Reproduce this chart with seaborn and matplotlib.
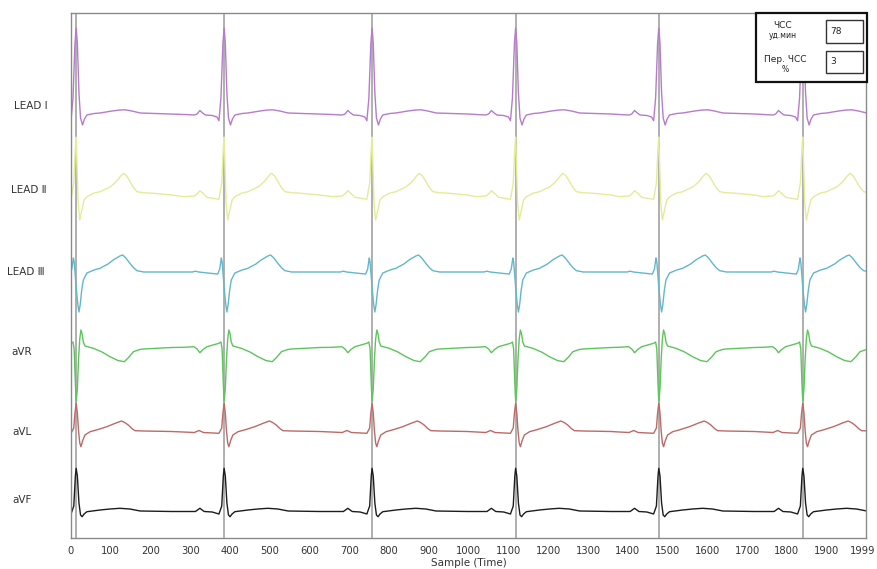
import numpy as np
import pandas as pd
import matplotlib.pyplot as plt
import seaborn as sns
from matplotlib.patches import Rectangle
from matplotlib.ticker import MultipleLocator
from matplotlib.transforms import ScaledTranslation

# R-peak positions (samples)
r_peaks = [13, 385, 757, 1118, 1478, 1840]

leads = ["LEAD Ⅰ", "LEAD Ⅱ", "LEAD Ⅲ", "aVR", "aVL", "aVF"]
baselines = [42.5, 34.5, 26.6, 18.9, 10.7, 2.7]
colors = ["#b57ccc", "#e4ec98", "#62b7cc", "#5cc65a", "#bd6a66", "#1c1c1c"]

# one beat per lead: (offset from R peak in samples, amplitude)
lead1_beat = [(-100, -0.15), (-75, -0.2), (-68, -0.1), (-61, 0.25), (-54, 0.0), (-47, -0.2),
              (-30, -0.25), (-18, -0.4), (-13, -0.77), (-8, 1.5), (-3, 7.0), (0, 8.5),
              (3, 7.0), (7, 2.0), (11, -0.5), (16, -1.2), (21, -0.6), (27, -0.2),
              (45, -0.05), (60, 0.0), (90, 0.2), (110, 0.3), (123, 0.32), (140, 0.2),
              (161, 0.0), (200, -0.05), (240, -0.1)]
lead2_beat = [(-100, -0.37), (-75, -0.3), (-68, -0.1), (-61, 0.23), (-54, 0.0), (-43, -0.43),
              (-13, -0.63), (-6, 1.0), (-2, 4.5), (0, 5.6), (2, 3.0), (5, -1.0), (9, -2.7),
              (14, -1.8), (20, -0.7), (27, -0.37), (45, 0.0), (60, 0.13), (85, 0.6),
              (100, 1.1), (112, 1.7), (119, 1.97), (127, 1.7), (136, 1.1), (145, 0.5),
              (153, 0.13), (170, 0.02), (186, 0.0), (240, -0.2)]
lead3_beat = [(-100, 0.0), (-80, 0.0), (-72, 0.08), (-64, 0.0), (-30, -0.15), (-16, -0.2),
              (-11, 0.3), (-7, 1.4), (-5, 1.0), (-3, 0.0), (0, -1.5), (4, -3.2), (7, -4.0),
              (10, -3.3), (14, -1.8), (18, -0.8), (27, -0.1), (45, 0.2), (60, 0.37),
              (80, 0.8), (93, 1.2), (110, 1.6), (117, 1.7), (125, 1.4), (135, 0.87),
              (145, 0.4), (153, 0.13), (170, 0.0), (240, 0.0)]
avr_beat = [(-100, 0.17), (-76, 0.23), (-68, 0.0), (-61, -0.37), (-53, -0.05), (-43, 0.23),
            (-13, 0.57), (-8, 0.7), (-5, 0.0), (-2, -3.5), (0, -5.2), (3, -4.0), (6, -1.0),
            (9, 1.0), (12, 1.9), (15, 1.5), (18, 0.7), (22, 0.3), (43, 0.07), (65, -0.3),
            (85, -0.77), (105, -1.15), (121, -1.27), (133, -0.8), (144, -0.27),
            (160, -0.05), (169, 0.0), (240, 0.15)]
avl_beat = [(-100, -0.1), (-75, -0.15), (-63, 0.05), (-52, -0.15), (-30, -0.2), (-13, -0.23),
            (-6, 0.3), (-3, 1.8), (0, 2.77), (3, 1.8), (6, 0.0), (9, -1.2), (12, -1.57),
            (16, -1.0), (22, -0.4), (35, -0.07), (55, 0.15), (77, 0.43), (100, 0.8),
            (114, 1.0), (122, 0.85), (131, 0.6), (140, 0.25), (148, 0.03), (170, 0.0),
            (240, -0.05)]
avf_beat = [(-100, -0.05), (-72, -0.05), (-61, 0.27), (-50, -0.05), (-30, -0.1), (-13, -0.3),
            (-6, 0.5), (-2, 3.5), (0, 4.27), (3, 3.5), (7, 0.8), (11, -0.4), (15, -0.57),
            (20, -0.3), (27, -0.07), (60, 0.1), (85, 0.2), (110, 0.27), (135, 0.2),
            (161, 0.0), (240, -0.05)]
beats = [lead1_beat, lead2_beat, lead3_beat, avr_beat, avl_beat, avf_beat]

x_ticks = list(range(0, 2000, 100)) + [1999]
x_ticklabels = [str(t) for t in x_ticks]

rows = []
for lead, base, beat in zip(leads, baselines, beats):
    for r in r_peaks:
        for off, amp in beat:
            rows.append((lead, r + off, base + amp))
df = pd.DataFrame(rows, columns=["lead", "sample", "value"])

sns.set_style("white")
plt.rcParams['font.family'] = ['DejaVu Sans']

fig = plt.figure(figsize=(8.77, 5.69), dpi=100)
ax = fig.add_axes([71 / 877, 1 - 538 / 569, 795 / 877, 525 / 569])

for r in r_peaks:
    ax.axvline(r, color="#9a9a9a", lw=1.1, zorder=1)

for lead, c in zip(leads, colors):
    sns.lineplot(data=df[df["lead"] == lead], x="sample", y="value", color=c,
                 lw=1.0, estimator=None, sort=False, ax=ax, zorder=2)

ax.set_xlim(0, 1999)
ax.set_ylim(0, 52.5)
ax.set_xticks(x_ticks)
ax.set_xticklabels(x_ticklabels)
ax.xaxis.set_minor_locator(MultipleLocator(20))
ax.yaxis.set_major_locator(MultipleLocator(1))
ax.set_yticklabels([])
ax.tick_params(axis="x", which="major", direction="out", length=4, width=0.8,
               color="#707070", labelsize=7.2, labelcolor="#333333", pad=2)
ax.tick_params(axis="x", which="minor", direction="out", length=2, width=0.7, color="#707070")
ax.tick_params(axis="y", which="major", direction="out", length=3, width=0.7,
               color="#707070", pad=2)
# keep the last label ("1999") inside the canvas
last = ax.get_xticklabels()[-1]
last.set_transform(last.get_transform() + ScaledTranslation(-3 / 100, 0, fig.dpi_scale_trans))
ax.set_xlabel("Sample (Time)", fontsize=7.5, color="#333333", labelpad=1)
ax.set_ylabel("")
for s in ax.spines.values():
    s.set_color("#8a8a8a")
    s.set_linewidth(1.0)

# lead names left of the axis
label_pos = [(14, 106), (11, 190), (7, 272), (11, 352), (12, 432), (12, 500)]
for lead, (px, py) in zip(leads, label_pos):
    fig.text(px / 877, 1 - py / 569, lead, fontsize=7.5, color="#333333",
             ha="left", va="center")

# heart-rate info box
def fbox(x0, y0, x1, y1, lw, ec):
    fig.patches.append(Rectangle((x0 / 877, 1 - y1 / 569), (x1 - x0) / 877, (y1 - y0) / 569,
                                 transform=fig.transFigure, facecolor="white",
                                 edgecolor=ec, lw=lw, zorder=5))

fbox(756, 13, 867, 82, 1.6, "#111111")
fbox(826, 20, 863, 43, 1.0, "#333333")
fbox(826, 51, 863, 73, 1.0, "#333333")

def ftext(px, py, s, size, ha="center"):
    fig.text(px / 877, 1 - py / 569, s, fontsize=size, ha=ha, va="center",
             color="#222222", zorder=6)

ftext(783, 26, "ЧСС", 6.5)
ftext(783, 35, "уд.мин", 5.5)
ftext(830, 31, "78", 6.5, ha="left")
ftext(785, 60, "Пер. ЧСС", 6.5)
ftext(785, 70, "%", 5.5)
ftext(830, 62, "3", 6.5, ha="left")

fig.savefig("out.png", dpi=100)
